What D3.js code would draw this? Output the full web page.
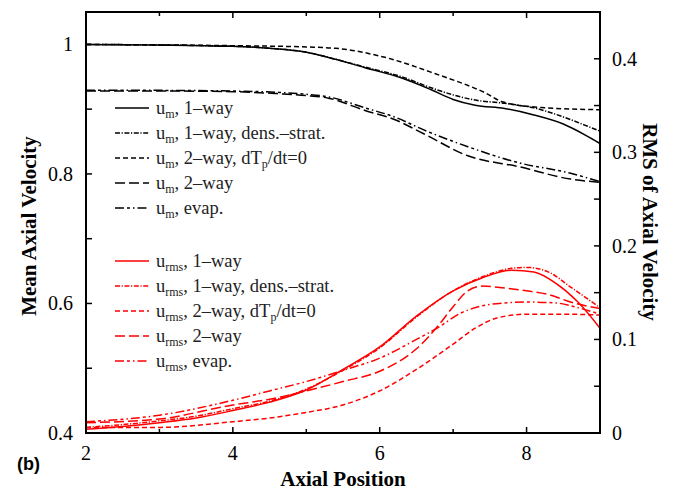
<!DOCTYPE html>
<html><head><meta charset="utf-8">
<script src="https://cdn.jsdelivr.net/npm/d3@7"></script>
<style>body{margin:0;background:#fff}svg{display:block}</style>
</head><body>
<svg id="c" width="675" height="490"></svg>
<script>
// ---- data ----
const meanX_1way   = [2, 4, 4.5, 5, 5.4, 5.8, 6.3, 6.7, 7, 7.3, 7.7, 8.1, 8.5, 8.8, 9];
const mean_1way    = [1.0, 0.997, 0.994, 0.988, 0.977, 0.964, 0.948, 0.930, 0.915, 0.906, 0.901, 0.891, 0.877, 0.860, 0.847];
const mean_1wayDS  = [1.0, 0.997, 0.994, 0.988, 0.977, 0.965, 0.950, 0.933, 0.922, 0.914, 0.909, 0.902, 0.888, 0.875, 0.866];
const meanX_2wayT  = [2, 4, 5, 5.4, 6.07, 6.75, 7.44, 7.68, 8.25, 8.7, 9];
const mean_2wayT   = [1.0, 0.998, 0.996, 0.994, 0.980, 0.955, 0.925, 0.911, 0.902, 0.900, 0.899];
const meanX_2way   = [2, 3, 4, 4.6, 5, 5.3, 5.8, 6.2, 6.6, 7.2, 7.9, 8.6, 9];
const mean_2way    = [0.928, 0.928, 0.927, 0.924, 0.921, 0.917, 0.898, 0.884, 0.862, 0.828, 0.811, 0.792, 0.787];
const mean_evap    = [0.929, 0.929, 0.928, 0.926, 0.923, 0.919, 0.902, 0.888, 0.868, 0.842, 0.817, 0.801, 0.788];

const rmsX_1way    = [2, 2.5, 3, 3.5, 4, 4.5, 5, 5.5, 6, 6.5, 7, 7.4, 7.8, 8.1, 8.4, 8.7, 9];
const rms_1way     = [0.004, 0.007, 0.011, 0.016, 0.024, 0.033, 0.046, 0.068, 0.092, 0.125, 0.152, 0.166, 0.174, 0.172, 0.160, 0.140, 0.112];
const rmsX_1wayDS  = [2, 2.5, 3, 3.5, 4, 4.5, 5, 5.5, 6, 6.5, 7, 7.4, 7.8, 8.0, 8.3, 8.6, 9];
const rms_1wayDS   = [0.006, 0.009, 0.013, 0.018, 0.026, 0.034, 0.047, 0.067, 0.091, 0.124, 0.152, 0.167, 0.176, 0.177, 0.172, 0.156, 0.134];
const rmsX_2wayT   = [2, 3, 4, 4.5, 5, 5.5, 6, 6.5, 7, 7.3, 7.6, 8, 8.5, 9];
const rms_2wayT    = [0.006, 0.006, 0.012, 0.016, 0.022, 0.030, 0.045, 0.068, 0.095, 0.112, 0.123, 0.127, 0.127, 0.126];
const rmsX_2way    = [2, 3, 4, 4.5, 5, 5.5, 6, 6.5, 6.8, 7.0, 7.2, 7.4, 7.7, 8.0, 8.3, 8.6, 9];
const rms_2way     = [0.011, 0.015, 0.030, 0.036, 0.045, 0.055, 0.066, 0.090, 0.115, 0.135, 0.152, 0.157, 0.155, 0.152, 0.148, 0.140, 0.133];
const rmsX_evap    = [2, 3, 4, 4.5, 5, 5.3, 5.5, 6, 6.5, 6.8, 7.1, 7.4, 7.7, 8.0, 8.4, 8.7, 9];
const rms_evap     = [0.012, 0.019, 0.035, 0.045, 0.055, 0.062, 0.067, 0.080, 0.100, 0.113, 0.128, 0.136, 0.139, 0.140, 0.139, 0.134, 0.127];

const xTicks = [2, 3, 4, 5, 6, 7, 8, 9];
const xLabels = [2, 4, 6, 8];
const yLeftTicks = [0.4, 0.5, 0.6, 0.7, 0.8, 0.9, 1.0];
const yLeftLabels = [0.4, 0.6, 0.8, 1.0];
const yRightTicks = [0, 0.05, 0.1, 0.15, 0.2, 0.25, 0.3, 0.35, 0.4];
const yRightLabels = [0, 0.1, 0.2, 0.3, 0.4];

const meanLabels = [", 1\u2013way", ", 1\u2013way, dens.\u2013strat.", ", 2\u2013way, dT", ", 2\u2013way", ", evap."];
const rmsLabels = meanLabels;

// ---- layout ----
const L = 86, R = 600, T = 12, B = 433;
const svg = d3.select("#c");
const x = d3.scaleLinear().domain([2, 9]).range([L, R]);
const yL = d3.scaleLinear().domain([0.4, 1.05]).range([B, T]);
const yR = d3.scaleLinear().domain([0, 0.45]).range([B, T]);

svg.append("defs").append("clipPath").attr("id", "clip")
  .append("rect").attr("x", L).attr("y", T).attr("width", R - L).attr("height", B - T);

const dashes = [null, "5,1.6,1.2,1.6", "5,3", "10,4", "9,3,3,3,1.5,3"];
const series = [
  {xs: meanX_1way, ys: mean_1way, sc: yL, col: "#000", d: 0},
  {xs: meanX_1way, ys: mean_1wayDS, sc: yL, col: "#000", d: 1},
  {xs: meanX_2wayT, ys: mean_2wayT, sc: yL, col: "#000", d: 2},
  {xs: meanX_2way, ys: mean_2way, sc: yL, col: "#000", d: 3},
  {xs: meanX_2way, ys: mean_evap, sc: yL, col: "#000", d: 4},
  {xs: rmsX_1way, ys: rms_1way, sc: yR, col: "#f00", d: 0},
  {xs: rmsX_1wayDS, ys: rms_1wayDS, sc: yR, col: "#f00", d: 1},
  {xs: rmsX_2wayT, ys: rms_2wayT, sc: yR, col: "#f00", d: 2},
  {xs: rmsX_2way, ys: rms_2way, sc: yR, col: "#f00", d: 3},
  {xs: rmsX_evap, ys: rms_evap, sc: yR, col: "#f00", d: 4}
];

const g = svg.append("g").attr("clip-path", "url(#clip)");
series.forEach(s => {
  const pts = s.xs.map((v, i) => [v, s.ys[i]]);
  const line = d3.line().x(p => x(p[0])).y(p => s.sc(p[1])).curve(d3.curveMonotoneX);
  g.append("path").attr("d", line(pts)).attr("fill", "none")
    .attr("stroke", s.col).attr("stroke-width", 1.5)
    .attr("stroke-dasharray", dashes[s.d]);
});

// ---- axes ----
const serif = "'Liberation Serif', 'Times New Roman', serif";
const ax = svg.append("g");
function tick(x1, y1, x2, y2) {
  ax.append("line").attr("x1", x1).attr("y1", y1).attr("x2", x2).attr("y2", y2)
    .attr("stroke", "#000").attr("stroke-width", 1.5);
}
xTicks.forEach(v => {
  const len = (v % 2 === 0) ? 6 : 4;
  tick(x(v), B, x(v), B - len);
  tick(x(v), T, x(v), T + len);
});
yLeftTicks.forEach(v => tick(L, yL(v), L + 6, yL(v)));
yRightTicks.forEach(v => tick(R, yR(v), R - 6, yR(v)));

ax.append("rect").attr("x", L).attr("y", T).attr("width", R - L).attr("height", B - T)
  .attr("fill", "none").attr("stroke", "#000").attr("stroke-width", 2);

const fmt = v => (v === 1 ? "1" : String(v));
xLabels.forEach(v => ax.append("text").attr("x", x(v)).attr("y", B + 27)
  .attr("text-anchor", "middle").attr("font-family", serif).attr("font-size", 20).text(fmt(v)));
yLeftLabels.forEach(v => ax.append("text").attr("x", L - 13).attr("y", yL(v) + 7)
  .attr("text-anchor", "end").attr("font-family", serif).attr("font-size", 20).text(fmt(v)));
yRightLabels.forEach(v => ax.append("text").attr("x", R + 12).attr("y", yR(v) + 7)
  .attr("text-anchor", "start").attr("font-family", serif).attr("font-size", 20).text(fmt(v)));

ax.append("text").attr("x", 343).attr("y", 486).attr("text-anchor", "middle")
  .attr("font-family", serif).attr("font-weight", "bold").attr("font-size", 21).text("Axial Position");
ax.append("text").attr("transform", "translate(36,226) rotate(-90)").attr("text-anchor", "middle")
  .attr("font-family", serif).attr("font-weight", "bold").attr("font-size", 21).text("Mean Axial Velocity");
ax.append("text").attr("transform", "translate(643,222) rotate(90)").attr("text-anchor", "middle")
  .attr("font-family", serif).attr("font-weight", "bold").attr("font-size", 21).text("RMS of Axial Velocity");
ax.append("text").attr("x", 17).attr("y", 470)
  .attr("font-family", "'Liberation Sans', Arial, sans-serif").attr("font-weight", "bold").attr("font-size", 18).text("(b)");

// ---- legends ----
function legend(y0, col, sub, labels) {
  labels.forEach((lab, i) => {
    const yy = y0 + i * 25;
    ax.append("line").attr("x1", 115).attr("x2", 149).attr("y1", yy).attr("y2", yy)
      .attr("stroke", col).attr("stroke-width", 1.7).attr("stroke-dasharray", dashes[i]);
    const t = ax.append("text").attr("x", 156).attr("y", yy + 6)
      .attr("font-family", serif).attr("font-size", 18.5).attr("fill", "#222");
    t.append("tspan").text("u");
    t.append("tspan").attr("font-size", 12).attr("dy", 4).text(sub);
    if (i === 2) {
      t.append("tspan").attr("dy", -4).text(lab);
      t.append("tspan").attr("font-size", 12).attr("dy", 4).text("p");
      t.append("tspan").attr("dy", -4).text("/dt=0");
    } else {
      t.append("tspan").attr("dy", -4).text(lab);
    }
  });
}
legend(108, "#000", "m", meanLabels);
legend(261, "#f00", "rms", rmsLabels);
</script>
</body></html>
